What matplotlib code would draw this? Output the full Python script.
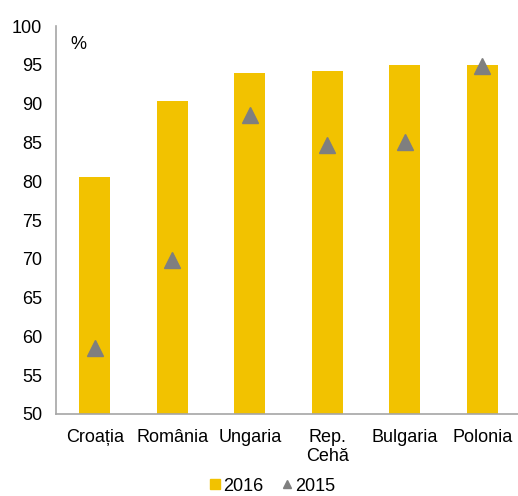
import matplotlib.pyplot as plt
from matplotlib.lines import Line2D
import numpy as np

plt.rcParams['font.family'] = ['Liberation Sans', 'DejaVu Sans']

countries = ["Croația", "România", "Ungaria", "Rep.\nCehă", "Bulgaria", "Polonia"]
values_2016 = [80.6, 90.3, 93.9, 94.2, 95.0, 95.0]
values_2015 = [58.5, 69.8, 88.5, 84.7, 85.1, 94.9]

YELLOW = "#F2C200"
GREY = "#7F7F7F"

fig = plt.figure(figsize=(5.18, 4.96), dpi=100)
ax = fig.add_axes([56 / 518, 82 / 496, 465 / 518, 388 / 496])

x = np.arange(len(countries))
ax.bar(x, values_2016, width=0.4, color=YELLOW, zorder=2)
ax.plot(x, values_2015, linestyle="none", marker="^", markersize=12,
        color=GREY, zorder=3)

ax.set_xlim(-0.5, len(countries) - 0.5)
ax.set_ylim(50, 100)
ax.set_yticks(np.arange(50, 101, 5))
ax.set_xticks(x)
ax.set_xticklabels(countries, fontsize=13, linespacing=1.15)
ax.tick_params(axis="both", length=0, labelsize=13, colors="black")
ax.tick_params(axis="y", pad=10)
ax.tick_params(axis="x", pad=11)

for side in ["top", "right"]:
    ax.spines[side].set_visible(False)
for side in ["left", "bottom"]:
    ax.spines[side].set_color("#A6A6A6")
    ax.spines[side].set_linewidth(1.2)

ax.text(0.03, 0.975, "%", transform=ax.transAxes, fontsize=13, va="top", ha="left")

handles = [
    Line2D([], [], linestyle="none", marker="s", markersize=7, color=YELLOW),
    Line2D([], [], linestyle="none", marker="^", markersize=6, color=GREY),
]
fig.legend(handles, ["2016", "2015"], loc="lower center", ncol=2, frameon=False,
           fontsize=13, handlelength=0.7, handletextpad=0.1, columnspacing=1.0,
           bbox_to_anchor=(0.525, -0.03))

fig.savefig("out.png", dpi=100)
